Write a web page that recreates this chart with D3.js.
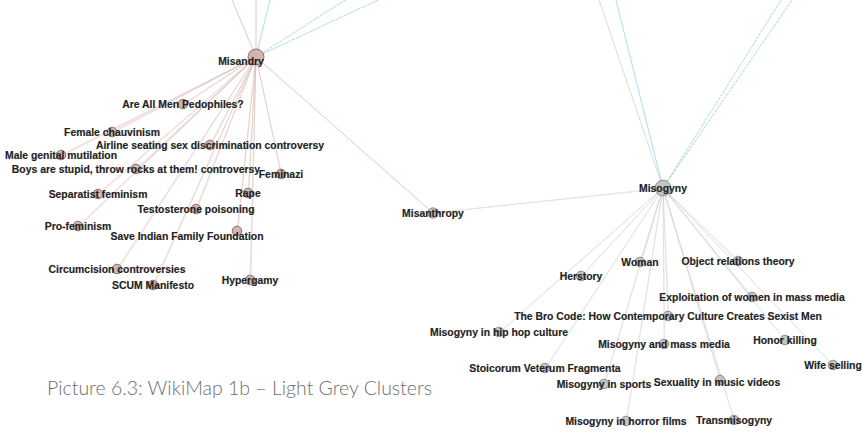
<!DOCTYPE html>
<html>
<head>
<meta charset="utf-8">
<script src="https://cdn.jsdelivr.net/npm/d3@7"></script>
<style>
  html, body { margin: 0; padding: 0; background: #fff; }
  svg { display: block; }
</style>
</head>
<body>
<svg id="chart" width="862" height="432"></svg>
<script>
// ---------------- DATA ----------------
const nodeNames = [
  "Misandry", "Are All Men Pedophiles?", "Female chauvinism",
  "Airline seating sex discrimination controversy", "Male genital mutilation",
  "Boys are stupid, throw rocks at them! controversy", "Feminazi",
  "Separatist feminism", "Rape", "Testosterone poisoning", "Pro-feminism",
  "Save Indian Family Foundation", "Circumcision controversies", "SCUM Manifesto",
  "Hypergamy",
  "Misanthropy",
  "Misogyny", "Woman", "Object relations theory", "Herstory",
  "Exploitation of women in mass media",
  "The Bro Code: How Contemporary Culture Creates Sexist Men",
  "Misogyny in hip hop culture", "Misogyny and mass media", "Honor killing",
  "Wife selling", "Stoicorum Veterum Fragmenta", "Misogyny in sports",
  "Sexuality in music videos", "Misogyny in horror films", "Transmisogyny",
  // nodes of other clusters, outside the visible frame
  "hidden A", "hidden B", "hidden C", "hidden D", "hidden E", "hidden F"
];
// Layout coordinates (graph space)
const nodeX = [256, 183, 112, 210, 61, 136, 281, 98, 248, 196, 78, 237, 117, 153, 250,
               433,
               663, 640, 738, 581, 752, 668, 499, 664, 785, 833, 545, 604, 720, 626, 734,
               441, 1074, 987, 64, 256, 429];
const nodeY = [57, 104, 132, 145, 155, 169, 174, 194, 193, 209, 226, 231, 269, 285, 280,
               213,
               188, 262, 261, 276, 297, 316, 332, 344, 340, 365, 368, 384, 380, 421, 420,
               -698, -467, -285, -400, -400, -500];
// Cluster membership: 0 = Misandry (pink), 1 = Misogyny (grey), 2 = outside
const nodeGroup = [0,0,0,0,0,0,0,0,0,0,0,0,0,0,0,
                   1,
                   1,1,1,1,1,1,1,1,1,1,1,1,1,1,1,
                   2,2,2,2,2,2];
// Edges: source index, target index, edge kind (0 pink, 1 grey, 2 blue, 3 green)
const edgeSource = [0,0,0,0,0,0,0,0,0,0,0,0,0,0, 0,  15,
                    16,16,16,16,16,16,16,16,16,16,16,16,16,16,
                    0,16, 0,16, 0,16, 0,0, 16];
const edgeTarget = [1,2,3,4,5,6,7,8,9,10,11,12,13,14, 15, 16,
                    17,18,19,20,21,22,23,24,25,26,27,28,29,30,
                    31,31, 32,32, 33,33, 34,35, 36];
const edgeKind   = [0,0,0,0,0,0,0,0,0,0,0,0,0,0, 0, 1,
                    1,1,1,1,1,1,1,1,1,1,1,1,1,1,
                    2,2, 3,3, 3,3, 0,0, 1];
const captionText = "Picture 6.3: WikiMap 1b \u2013 Light Grey Clusters";

// ---------------- DRAW ----------------
const svg = d3.select("#chart");
const W = 862, H = 432;
const x = d3.scaleLinear().domain([0, 862]).range([0, W]);
const y = d3.scaleLinear().domain([0, 432]).range([0, H]);

const nodes = nodeNames.map((name, i) => ({name, i, x: nodeX[i], y: nodeY[i], g: nodeGroup[i], deg: 0}));
const edges = edgeSource.map((s, i) => ({s: nodes[s], t: nodes[edgeTarget[i]], k: edgeKind[i]}));
edges.forEach(e => { e.s.deg++; e.t.deg++; });

const rScale = d3.scaleSqrt().domain([1, 20]).range([4.8, 8]).clamp(true);
const edgeColor = d3.scaleOrdinal().domain([0,1,2,3]).range(["#dcbab5", "#d2d2d2", "#98cfe8", "#93d2bb"]);
const nodeFill = d3.scaleOrdinal().domain([0,1,2]).range(["#d3b4ae", "#c4c4c4", "#cccccc"]);
const nodeStroke = d3.scaleOrdinal().domain([0,1,2]).range(["#6d5a57", "#7a7a7a", "#777"]);

// edges drawn as two slightly offset strokes, like the doubled edges of the original
const edgeG = svg.append("g");
[0, 1].forEach(k => {
  edgeG.append("g").selectAll("line").data(edges).join("line")
    .attr("x1", d => x(d.s.x)).attr("y1", d => y(d.s.y))
    .attr("x2", d => x(d.t.x) + k * 0.8).attr("y2", d => y(d.t.y) + k * 0.8)
    .attr("stroke", d => edgeColor(d.k))
    .attr("stroke-width", 0.6)
    .attr("stroke-dasharray", d => d.k === 3 ? "3,1" : null)
    .attr("stroke-opacity", 0.8);
});

const visible = nodes.filter(d => d.g !== 2);
svg.append("g").selectAll("circle").data(visible).join("circle")
  .attr("cx", d => x(d.x)).attr("cy", d => y(d.y))
  .attr("r", d => rScale(d.deg))
  .attr("fill", d => nodeFill(d.g))
  .attr("stroke", d => nodeStroke(d.g))
  .attr("stroke-width", 0.8);

const nudge = {"Misandry": [-15, 4], "Save Indian Family Foundation": [-50, 5], "Sexuality in music videos": [-3, 2]};
svg.append("g").selectAll("text").data(visible).join("text")
  .attr("x", d => x(d.x) + (nudge[d.name] ? nudge[d.name][0] : 0))
  .attr("y", d => y(d.y) + 4 + (nudge[d.name] ? nudge[d.name][1] : 0))
  .attr("text-anchor", "middle")
  .attr("font-family", "'Liberation Sans', Arial, sans-serif")
  .attr("font-weight", "bold")
  .attr("font-size", 10.4)
  .attr("fill", "#222")
  .attr("stroke", "#222")
  .attr("stroke-width", 0.15)
  .text(d => d.name);

svg.append("text")
  .attr("x", 47).attr("y", 395)
  .attr("font-family", "Lato, 'Open Sans', sans-serif")
  .attr("font-weight", 300)
  .attr("font-size", 19)
  .attr("fill", "#6e6e6e")
  .attr("textLength", 385)
  .attr("lengthAdjust", "spacingAndGlyphs")
  .text(captionText);
</script>
</body>
</html>
